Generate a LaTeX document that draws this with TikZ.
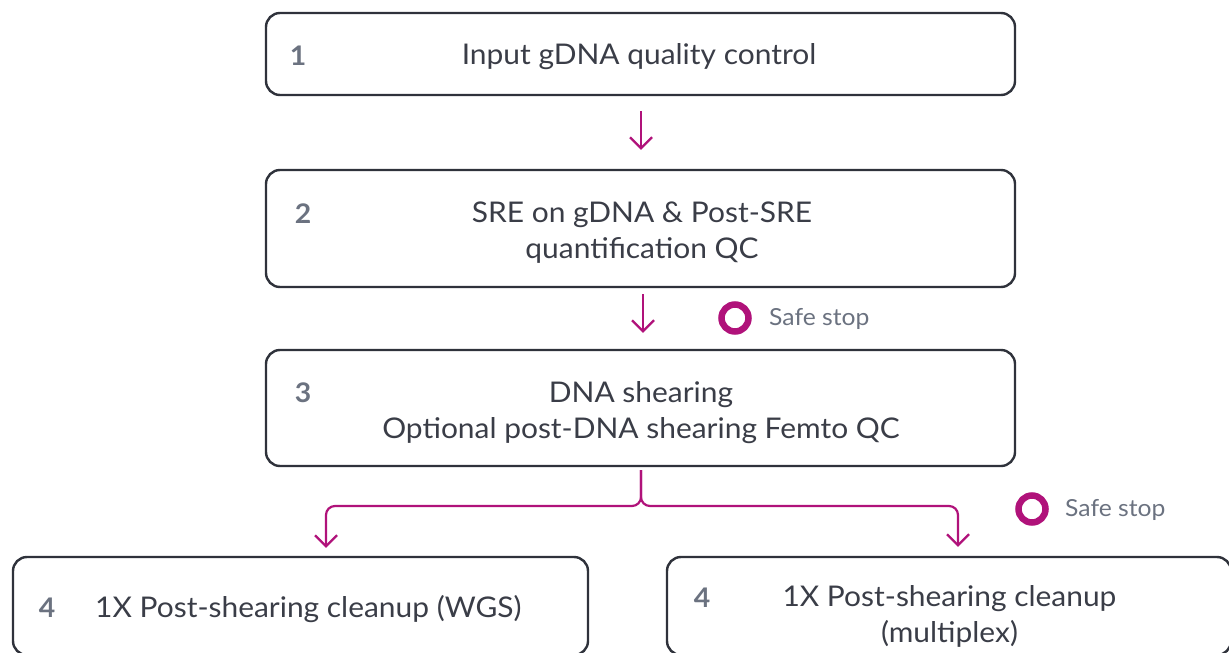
\documentclass[tikz,border=0pt]{standalone}
\usepackage{fontspec}
\setmainfont{Lato}[FakeStretch=1.05]
\usetikzlibrary{arrows.meta,calc}
\definecolor{accent}{RGB}{176,18,122}
\definecolor{frame}{RGB}{47,50,59}
\definecolor{bodytext}{RGB}{58,61,71}
\definecolor{numtext}{RGB}{107,114,128}
\tikzset{
  stepbox/.style={draw=frame, line width=2.4pt, rounded corners=14pt, inner sep=0pt},
  numlabel/.style={text=numtext, font=\fontsize{27}{32}\selectfont\bfseries, inner sep=0pt},
  steplabel/.style={text=bodytext, font=\fontsize{28.5}{36}\selectfont, align=center, inner sep=0pt},
  stoplabel/.style={text=numtext, font=\fontsize{23.5}{26}\selectfont, anchor=west, inner sep=0pt},
  stopmark/.style={draw=accent, line width=6.5pt, circle, minimum size=27pt, inner sep=0pt},
  flow/.style={draw=accent, line width=2.2pt, -{Straight Barb[length=11pt,width=22pt]}},
}
\begin{document}
\begin{tikzpicture}[x=1pt,y=-1pt]
\useasboundingbox (0,0) rectangle (1229,653);

% step boxes
\node[stepbox, minimum width=749pt, minimum height=82pt]  (b1)  at (640.5,54)   {};
\node[stepbox, minimum width=749pt, minimum height=117pt] (b2)  at (640.5,228.5) {};
\node[stepbox, minimum width=749pt, minimum height=116pt] (b3)  at (640.5,408)  {};
\node[stepbox, minimum width=575pt, minimum height=98pt]  (b4a) at (300.5,606)  {};
\node[stepbox, minimum width=564pt, minimum height=98pt]  (b4b) at (949,606)    {};

% step numbers
\node[numlabel] (n1)  at (298,56)  {1};
\node[numlabel] (n2)  at (303,214) {2};
\node[numlabel] (n3)  at (303,393) {3};
\node[numlabel] (n4a) at (47,608)  {4};
\node[numlabel] (n4b) at (702,598) {4};

% step texts
\node[steplabel] (t1)  at (639,57)    {Input gDNA quality control};
\node[steplabel] (t2)  at (642,232.5) {SRE on gDNA \& Post-SRE\\quantification QC};
\node[steplabel] (t3)  at (641,413)   {DNA shearing\\Optional post-DNA shearing Femto QC};
\node[steplabel, anchor=west] (t4a) at (95,609) {1X Post-shearing cleanup (WGS)};
\node[steplabel] (t4b) at (949.5,616) {1X Post-shearing cleanup\\(multiplex)};

% safe stop markers
\node[stopmark] (s1) at (735,318) {};
\node[stoplabel] (s1t) at (769,319) {Safe stop};
\node[stopmark] (s2) at (1032,509) {};
\node[stoplabel] (s2t) at (1065,510) {Safe stop};

% straight arrows
\draw[flow, shorten <=15pt, shorten >=19pt] (b1.south -| 641,0) -- (b2.north -| 641,0);
\draw[flow, shorten <=6pt, shorten >=16pt] (b2.south -| 643,0) -- (b3.north -| 643,0);

% split into the two cleanup branches
\coordinate (fork) at (641,506);
\coordinate (leftbend) at (326,506);
\coordinate (rightbend) at (958,506);
\draw[flow, rounded corners=9pt, shorten >=8pt]
  ([yshift=-3pt]b3.south -| fork) -- (fork) -- (leftbend) -- (b4a.north -| leftbend);
\draw[flow, rounded corners=9pt, shorten >=9pt]
  ([yshift=-3pt]b3.south -| fork) -- (fork) -- (rightbend) -- (b4b.north -| rightbend);
\end{tikzpicture}
\end{document}
